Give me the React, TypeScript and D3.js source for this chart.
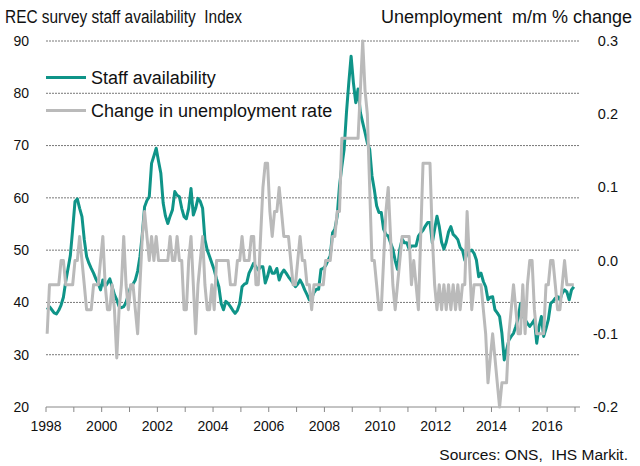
import React from "react";
import * as d3 from "d3";

// Monthly data, Jan 1998 – Dec 2016
const startYear = 1998;

const staffAvailability: number[] = [
  // 1998
  38.6, 39.2, 38.6, 38.0, 37.8, 38.5, 39.5, 41.0, 44.0, 46.5, 49.0, 54.0,
  // 1999
  59.3, 59.8, 58.0, 56.4, 52.0, 48.8, 47.5, 46.5, 45.6, 44.5, 43.7, 42.4,
  // 2000
  44.3, 43.0, 43.7, 44.5, 43.0, 41.5, 40.5, 39.2, 39.0, 39.2, 40.0, 41.5,
  // 2001
  43.0, 43.5, 44.3, 46.0, 48.8, 53.0, 58.3, 59.5, 60.2, 66.6, 68.0, 69.5,
  // 2002
  67.0, 64.7, 59.0, 56.5, 55.1, 56.5, 57.7, 61.2, 60.5, 60.2, 58.0, 56.4,
  // 2003
  56.0, 58.0, 61.8, 56.7, 58.0, 59.9, 59.3, 58.0, 52.0, 50.0, 48.8, 47.5,
  // 2004
  46.2, 44.5, 43.0, 39.8, 38.6, 40.2, 39.8, 39.2, 38.5, 37.9, 38.5, 39.8,
  // 2005
  43.0, 43.5, 43.7, 45.6, 46.5, 47.5, 46.8, 46.2, 46.8, 46.8, 43.7, 45.0,
  // 2006
  46.8, 45.6, 45.6, 46.5, 44.3, 45.5, 46.2, 45.6, 44.9, 44.3, 43.7, 43.0,
  // 2007
  43.5, 44.3, 43.5, 42.4, 41.5, 40.5, 40.8, 41.9, 42.5, 42.5, 46.3, 46.5,
  // 2008
  47.0, 48.0, 48.9, 53.3, 54.0, 56.5, 62.3, 66.0, 69.3, 76.3, 82.0, 87.1,
  // 2009
  82.0, 78.2, 80.8, 76.3, 74.4, 72.5, 70.5, 69.3, 64.2, 61.6, 58.5, 57.2,
  // 2010
  57.2, 54.0, 53.0, 52.7, 51.4, 50.2, 48.0, 46.3, 50.2, 52.1, 51.4, 51.4,
  // 2011
  50.2, 50.8, 50.8, 50.8, 52.7, 53.3, 53.8, 54.6, 55.3, 55.3, 51.4, 54.0,
  // 2012
  56.5, 54.5, 51.5, 50.2, 51.5, 53.5, 54.5, 53.0, 52.6, 52.0, 50.5, 50.0,
  // 2013
  48.1, 49.4, 49.8, 50.0, 49.4, 48.1, 44.9, 45.6, 44.0, 43.0, 40.5, 41.0,
  // 2014
  41.1, 38.6, 38.0, 37.3, 34.1, 29.0, 30.9, 32.8, 33.5, 34.1, 35.4, 37.0,
  // 2015
  39.8, 37.5, 36.7, 36.0, 35.4, 36.0, 36.7, 32.2, 35.4, 37.3, 33.5, 35.0,
  // 2016
  36.7, 39.8, 40.2, 40.8, 41.1, 40.5, 41.8, 42.4, 42.0, 40.5, 42.4, 43.0,
];

const unemploymentChange: number[] = [
  // 1998
  -0.1, -0.033, -0.033, -0.033, -0.033, -0.033, 0, 0, -0.033, -0.033, -0.033, -0.033,
  // 1999
  0, 0, 0.033, 0, -0.033, -0.067, -0.067, -0.067, -0.033, -0.033, -0.033, 0,
  // 2000
  0.033, -0.033, -0.067, -0.067, -0.033, -0.067, -0.133, -0.067, -0.033, 0.033, -0.033, -0.067,
  // 2001
  -0.033, -0.033, -0.067, -0.1, -0.033, 0.033, 0.067, 0.033, 0, 0.033, 0, 0.033,
  // 2002
  0, 0, 0, 0, 0, 0.033, 0, 0, 0.033, 0, 0, -0.067,
  // 2003
  -0.067, 0, 0.033, -0.033, -0.1, -0.033, 0, 0.033, -0.033, -0.067, -0.067, -0.033,
  // 2004
  -0.067, 0, 0, 0, 0, 0, 0, -0.033, -0.033, -0.033, 0, 0,
  // 2005
  0.033, 0, 0, 0, 0.033, 0.033, -0.033, -0.033, 0.033, 0.1, 0.133, 0.133,
  // 2006
  0.067, 0.033, 0.067, 0.067, 0.1, 0.067, 0.033, 0.033, 0.033, 0, -0.033, -0.033,
  // 2007
  0, 0.033, 0, 0, -0.033, -0.033, -0.067, -0.033, -0.033, -0.033, -0.033, -0.033,
  // 2008
  0, 0, 0, 0.033, 0.033, 0.067, 0.067, 0.167, 0.167, 0.167, 0.167, 0.167,
  // 2009
  0.167, 0.167, 0.167, 0.233, 0.3, 0.233, 0.2, 0.1, 0, 0, -0.033, -0.067,
  // 2010
  -0.067, 0, 0.067, 0.1, 0.033, -0.033, -0.067, -0.033, 0, 0.033, 0.033, 0.033,
  // 2011
  0.033, -0.033, 0, -0.033, -0.067, 0.033, 0.133, 0.133, 0.133, 0.133, 0.033, -0.033,
  // 2012
  -0.067, -0.033, -0.067, -0.033, -0.067, -0.033, -0.067, -0.033, -0.067, -0.033, -0.067, -0.033,
  // 2013
  -0.033, 0.067, 0, -0.067, -0.033, -0.033, -0.033, -0.033, -0.067, -0.1, -0.167, -0.133,
  // 2014
  -0.1, -0.133, -0.167, -0.2, -0.167, -0.167, -0.167, -0.1, -0.067, -0.033, -0.067, -0.1,
  // 2015
  -0.1, -0.033, -0.1, -0.033, 0, 0, -0.067, -0.1, -0.1, -0.1, -0.1, -0.033,
  // 2016
  -0.033, 0, 0, -0.033, -0.067, -0.067, -0.033, 0, -0.033, -0.033, -0.033, -0.033,
];

const yearLabels = [1998, 2000, 2002, 2004, 2006, 2008, 2010, 2012, 2014, 2016];
const leftTicks = [20, 30, 40, 50, 60, 70, 80, 90];
const rightTicks = [-0.2, -0.1, 0.0, 0.1, 0.2, 0.3];

const seriesNames = ["Staff availability", "Change in unemployment rate"];
const leftTitle = "REC survey staff availability  Index";
const rightTitle = "Unemployment  m/m % change";
const sourceText = "Sources: ONS,  IHS Markit.";

const TEAL = "#0f9488";
const GRAY = "#bababa";
const FONT = "'Liberation Sans', Arial, sans-serif";
const TEXT = "#111";

export default function App() {
  const W = 640;
  const H = 466;
  const left = 46;
  const right = 580;
  const top = 41;
  const bottom = 407;

  const x = d3.scaleLinear().domain([1998, 2017]).range([left, 575]);
  const yL = d3.scaleLinear().domain([20, 90]).range([bottom, top]);
  const yR = d3.scaleLinear().domain([-0.2, 0.3]).range([bottom, top]);

  const dateOf = (i: number) => startYear + (i + 0.5) / 12;

  const lineL = d3
    .line<number>()
    .x((_, i) => x(dateOf(i)))
    .y((d) => yL(d));
  const lineR = d3
    .line<number>()
    .x((_, i) => x(dateOf(i)))
    .y((d) => yR(d));

  const allYears = d3.range(1998, 2018);
  const pre = { whiteSpace: "pre" as const };

  return (
    <svg
      width={W}
      height={H}
      style={{ position: "absolute", left: 0, top: 0, background: "#fff" }}
      fontFamily={FONT}
    >
      <rect width={W} height={H} fill="#fff" />
      {/* titles */}
      <text
        x={5}
        y={23}
        fontSize={18}
        fill={TEXT}
        style={pre}
        textLength={237}
        lengthAdjust="spacingAndGlyphs"
      >
        {leftTitle}
      </text>
      <text x={632} y={23} fontSize={18} fill={TEXT} textAnchor="end" style={pre}>
        {rightTitle}
      </text>

      {/* gridlines */}
      {leftTicks
        .filter((t) => t !== 20)
        .map((t) => (
          <line
            key={"g" + t}
            x1={left}
            x2={right}
            y1={yL(t)}
            y2={yL(t)}
            stroke="#555"
            strokeWidth={0.8}
            strokeDasharray="2 1"
          />
        ))}

      {/* left tick labels */}
      {leftTicks.map((t) => (
        <text
          key={"l" + t}
          x={29}
          y={yL(t)}
          dy="0.35em"
          fontSize={14}
          textAnchor="end"
          fill={TEXT}
        >
          {t}
        </text>
      ))}

      {/* right tick labels */}
      {rightTicks.map((t) => (
        <text
          key={"r" + t}
          x={618}
          y={yR(t)}
          dy="0.35em"
          fontSize={14.5}
          textAnchor="end"
          fill={TEXT}
        >
          {d3.format(".1f")(t).replace("−", "-")}
        </text>
      ))}

      {/* x axis */}
      <line x1={left} x2={right} y1={bottom} y2={bottom} stroke="#888" strokeWidth={1} />
      {allYears.map((yr) => (
        <line
          key={"t" + yr}
          x1={x(yr)}
          x2={x(yr)}
          y1={bottom}
          y2={bottom + 5}
          stroke="#888"
          strokeWidth={1}
        />
      ))}
      {yearLabels.map((yr) => (
        <text
          key={"x" + yr}
          x={x(yr)}
          y={431}
          fontSize={14}
          textAnchor="middle"
          fill={TEXT}
        >
          {yr}
        </text>
      ))}

      {/* series */}
      <path
        d={lineL(staffAvailability) || ""}
        fill="none"
        stroke={TEAL}
        strokeWidth={3}
        strokeLinejoin="round"
      />
      <path
        d={lineR(unemploymentChange) || ""}
        fill="none"
        stroke={GRAY}
        strokeWidth={3}
        strokeLinejoin="round"
      />

      {/* legend */}
      <line x1={46} x2={86} y1={77.5} y2={77.5} stroke={TEAL} strokeWidth={3} />
      <text x={91} y={84} fontSize={18} fill={TEXT}>
        {seriesNames[0]}
      </text>
      <line x1={46} x2={86} y1={110.5} y2={110.5} stroke={GRAY} strokeWidth={3} />
      <text x={91} y={117} fontSize={18} fill={TEXT}>
        {seriesNames[1]}
      </text>

      {/* source */}
      <text x={628} y={460} fontSize={15.5} textAnchor="end" fill={TEXT} style={pre}>
        {sourceText}
      </text>
    </svg>
  );
}
